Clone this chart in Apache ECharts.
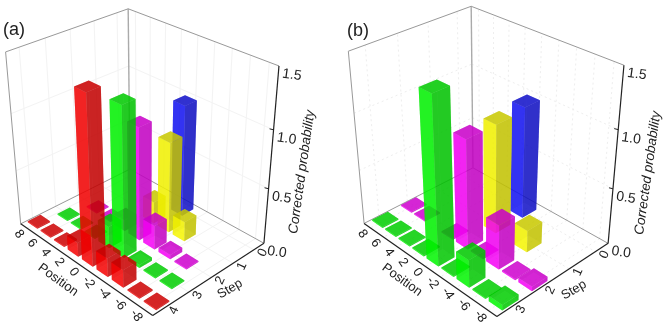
<!DOCTYPE html>
<html>
<head>
<meta charset="utf-8">
<script src="https://cdn.jsdelivr.net/npm/echarts@6/dist/echarts.min.js"></script>
<style>
  html, body { margin: 0; background: #fff; }
  #main { width: 665px; height: 325px; filter: blur(0.35px); }
</style>
</head>
<body>
<div id="main"></div>
<script>
// tick labels
var positions = [8, 6, 4, 2, 0, -2, -4, -6, -8];
var probTicks = [0, 0.5, 1, 1.5];
var stepsA = [0, 1, 2, 3, 4];
var stepsB = [0, 1, 2, 3];

// one colour per step, back row first
var colorsA = ['#1414ff', '#ffff00', '#ff00ff', '#00ff00', '#ff0000'];
var colorsB = ['#1414ff', '#ffff00', '#ff00ff', '#00ff00'];

// values: [position, probability]
var a0 = [[0, 1.0]];
var a1 = [[1, 0.2], [-1, 0.81], [-3, 0.18]];
var a2 = [[6, 0.01], [4, 0.01], [2, 0.1], [0, 1.0], [-2, 0.22], [-4, 0.04], [-6, 0.01]];
var a3 = [[7, 0.01], [5, 0.01], [3, 0.01], [1, 0.2], [-1, 1.3], [-3, 0.03], [-5, 0.01], [-7, 0.01]];
var a4 = [[8, 0.01], [6, 0.01], [4, 0.01], [2, 0.13], [0, 1.45], [-2, 0.17], [-4, 0.16], [-6, 0.01], [-8, 0.01]];

// values
var b0 = [[0, 1.0]];
var b1 = [[0, 0.97], [-4, 0.2]];
var b2 = [[8, 0.01], [6, 0.01], [2, 0.01], [0, 0.97], [-2, 0.01], [-4, 0.4], [-6, 0.01], [-8, 0.04]];
var b3 = [[8, 0.01], [6, 0.01], [4, 0.01], [2, 0.01], [0, 1.44], [-2, 0.01], [-4, 0.25], [-6, 0.01], [-8, 0.05]];

// box corners on screen, used to fit the perspective of each panel
var panels = [
  {
    tag: '(a)', tagAt: [14, 30], steps: stepsA, colors: colorsA, rows: [a0, a1, a2, a3, a4],
    barU: 0.74, barV: 0.27, dash: null, gridColor: '#f3f3f3',
    corners: { back: [129.3, 170], left: [20.7, 222.7], front: [153.3, 316], right: [264, 243],
      backTop: [129.3, 8.3], leftTop: [5, 52.7], rightTop: [278.3, 65.7] },
    posTitle: [58, 280], stepTitle: [230, 289], probTitle: [302, 172]
  },
  {
    tag: '(b)', tagAt: [358, 31], steps: stepsB, colors: colorsB, rows: [b0, b1, b2, b3],
    barU: 0.8, barV: 0.27, dash: [2, 3], gridColor: '#eeeeee',
    corners: { back: [472.3, 168.3], left: [364.3, 222.7], front: [497.3, 316.7], right: [608.3, 243.3],
      backTop: [472.3, 6], leftTop: [347.7, 51.7], rightTop: [623.3, 65] },
    posTitle: [402, 280], stepTitle: [574, 290], probTitle: [648, 173]
  }
];

var BOX = 100; // hidden grid size, its pixels are used as floor fractions

// least squares fit of a 3x4 camera matrix to the box corners
function fitCamera(c) {
  var pts = [
    [0, 0, 0, c.back], [0, 1, 0, c.left], [1, 1, 0, c.front], [1, 0, 0, c.right],
    [0, 0, 1, c.backTop], [0, 1, 1, c.leftTop], [1, 0, 1, c.rightTop]
  ];
  var rows = [], rhs = [];
  pts.forEach(function (p) {
    var u = p[0], v = p[1], w = p[2], x = p[3][0] / 100, y = p[3][1] / 100;
    rows.push([u, v, w, 1, 0, 0, 0, 0, -x * u, -x * v, -x * w]); rhs.push(x);
    rows.push([0, 0, 0, 0, u, v, w, 1, -y * u, -y * v, -y * w]); rhs.push(y);
  });
  var n = 11, m = [];
  for (var i = 0; i < n; i++) {
    m[i] = [];
    for (var j = 0; j <= n; j++) {
      var s = 0;
      for (var k = 0; k < rows.length; k++) s += rows[k][i] * (j < n ? rows[k][j] : rhs[k]);
      m[i][j] = s;
    }
  }
  for (i = 0; i < n; i++) {
    var piv = i;
    for (k = i + 1; k < n; k++) if (Math.abs(m[k][i]) > Math.abs(m[piv][i])) piv = k;
    var t = m[i]; m[i] = m[piv]; m[piv] = t;
    for (k = 0; k < n; k++) {
      if (k === i) continue;
      var f = m[k][i] / m[i][i];
      for (j = i; j <= n; j++) m[k][j] -= f * m[i][j];
    }
  }
  return m.map(function (r, idx) { return r[n] / r[idx]; });
}

function projector(cam, api) {
  // position and step go through the hidden axes, height through a linear map
  return function (pos, step, val) {
    var pt = api.coord([pos, step]);
    var u = pt[0] / BOX, v = pt[1] / BOX;
    var w = echarts.number.linearMap(val, [0, 1.5], [0, 1]);
    var d = cam[8] * u + cam[9] * v + cam[10] * w + 1;
    return [
      100 * (cam[0] * u + cam[1] * v + cam[2] * w + cam[3]) / d,
      100 * (cam[4] * u + cam[5] * v + cam[6] * w + cam[7]) / d
    ];
  };
}

function barItem(panel, cam, color) {
  return function (params, api) {
    var P = projector(cam, api);
    var pos = api.value(0), val = api.value(1), step = api.value(2);
    var hu = panel.barU, hv = panel.barV;
    var p0 = pos + hu, p1 = pos - hu, s0 = step - hv, s1 = step + hv;
    var face = function (pts, dark, alpha) {
      return {
        type: 'polygon',
        shape: { points: pts },
        style: { fill: echarts.color.modifyAlpha(echarts.color.lerp(dark, [color, '#000000']), alpha), stroke: null }
      };
    };
    return {
      type: 'group',
      silent: true,
      children: [
        face([P(p0, s0, 0), P(p1, s0, 0), P(p1, s1, 0), P(p0, s1, 0)], 0.1, 0.4),   // bottom
        face([P(p0, s0, 0), P(p1, s0, 0), P(p1, s0, val), P(p0, s0, val)], 0.25, 0.45), // back
        face([P(p0, s0, 0), P(p0, s1, 0), P(p0, s1, val), P(p0, s0, val)], 0.25, 0.45), // back
        face([P(p0, s1, 0), P(p1, s1, 0), P(p1, s1, val), P(p0, s1, val)], 0.03, 0.75), // left
        face([P(p1, s0, 0), P(p1, s1, 0), P(p1, s1, val), P(p1, s0, val)], 0.24, 0.75), // right
        face([P(p0, s0, val), P(p1, s0, val), P(p1, s1, val), P(p0, s1, val)], 0.21, 0.75) // top
      ]
    };
  };
}

function frameItem(panel, cam) {
  return function (params, api) {
    var P = projector(cam, api);
    var sMin = panel.steps[0] - 0.5, sMax = panel.steps[panel.steps.length - 1] + 0.5;
    var kids = [];
    var line = function (a, b, color, width, dash) {
      kids.push({
        type: 'line',
        shape: { x1: a[0], y1: a[1], x2: b[0], y2: b[1] },
        style: { stroke: color, lineWidth: width, lineDash: dash || null }
      });
    };
    var text = function (str, at, rot, font, anchor) {
      kids.push({
        type: 'text',
        x: at[0], y: at[1], rotation: rot * Math.PI / 180,
        style: { text: str, font: font, fill: '#222', align: anchor || 'center', verticalAlign: 'middle' }
      });
    };
    var g = panel.gridColor, d = panel.dash;

    // wall and floor grid
    positions.forEach(function (p) {
      line(P(p, sMin, 0), P(p, sMin, 1.5), g, 1, d);
      line(P(p, sMin, 0), P(p, sMax, 0), g, 1, d);
    });
    panel.steps.forEach(function (s) {
      line(P(9, s, 0), P(9, s, 1.5), g, 1, d);
      line(P(9, s, 0), P(-9, s, 0), g, 1, d);
    });
    probTicks.slice(1, 3).forEach(function (t) {
      line(P(9, sMax, t), P(9, sMin, t), g, 1, d);
      line(P(9, sMin, t), P(-9, sMin, t), g, 1, d);
    });

    // box outline
    var grey = '#999999';
    line(P(9, sMin, 0), P(9, sMin, 1.5), '#aaaaaa', 1.4);
    line(P(9, sMax, 0), P(9, sMax, 1.5), grey, 1);
    line(P(9, sMax, 1.5), P(9, sMin, 1.5), grey, 1);
    line(P(9, sMin, 1.5), P(-9, sMin, 1.5), grey, 1);
    line(P(9, sMax, 0), P(9, sMin, 0), grey, 1);
    line(P(9, sMin, 0), P(-9, sMin, 0), grey, 1);

    // black axes
    line(P(9, sMax, 0), P(-9, sMax, 0), '#222', 1.2);
    line(P(-9, sMax, 0), P(-9, sMin, 0), '#222', 1.2);
    line(P(-9, sMin, 0), P(-9, sMin, 1.5), '#222', 1.2);

    // tick labels
    positions.forEach(function (p) {
      var at = P(p, sMax, 0);
      text(String(p), [at[0] - 8, at[1] + 6], -55, '13px "Liberation Sans"');
    });
    panel.steps.forEach(function (s) {
      var at = P(-9, s, 0);
      text(String(s), [at[0] + 9, at[1] + 3], 65, '13px "Liberation Sans"');
    });
    probTicks.forEach(function (t) {
      var at = P(-9, sMin, t);
      if (t > 0 && t < 1.5) line(at, [at[0] - 4, at[1] - 1], '#222', 1);
      text(t.toFixed(1), [at[0] + 13, at[1] + 9], -8, '14px "Liberation Sans"');
    });

    // titles
    text('Position', panel.posTitle, -36, '13px "Liberation Sans"');
    text('Step', panel.stepTitle, 30, '13px "Liberation Sans"');
    text('Corrected probability', panel.probTitle, 82, 'italic 13.5px "Liberation Sans"');
    text(panel.tag, panel.tagAt, 0, '18px "Liberation Sans"');

    return { type: 'group', silent: true, children: kids };
  };
}

var grids = [], xAxes = [], yAxes = [], series = [];
panels.forEach(function (panel, idx) {
  var cam = fitCamera(panel.corners);
  var sMin = panel.steps[0] - 0.5, sMax = panel.steps[panel.steps.length - 1] + 0.5;
  grids.push({ left: 0, top: 0, width: BOX, height: BOX, show: false });
  xAxes.push({ type: 'value', gridIndex: idx, min: -9, max: 9, inverse: true, show: false });
  yAxes.push({ type: 'value', gridIndex: idx, min: sMin, max: sMax, inverse: true, show: false });
  series.push({
    type: 'custom', xAxisIndex: idx, yAxisIndex: idx, silent: true, animation: false,
    renderItem: frameItem(panel, cam), data: [[0, 0]]
  });
  panel.rows.forEach(function (row, i) {
    series.push({
      type: 'custom', name: 'Step ' + panel.steps[i], xAxisIndex: idx, yAxisIndex: idx,
      silent: true, animation: false,
      renderItem: barItem(panel, cam, panel.colors[i]),
      encode: { x: 0, y: 2 },
      data: row.map(function (d) { return [d[0], d[1], panel.steps[i]]; })
    });
  });
});

var myChart = echarts.init(document.getElementById('main'), null, { renderer: 'canvas' });
myChart.setOption({
  animation: false,
  backgroundColor: '#fff',
  grid: grids,
  xAxis: xAxes,
  yAxis: yAxes,
  series: series
});
</script>
</body>
</html>
